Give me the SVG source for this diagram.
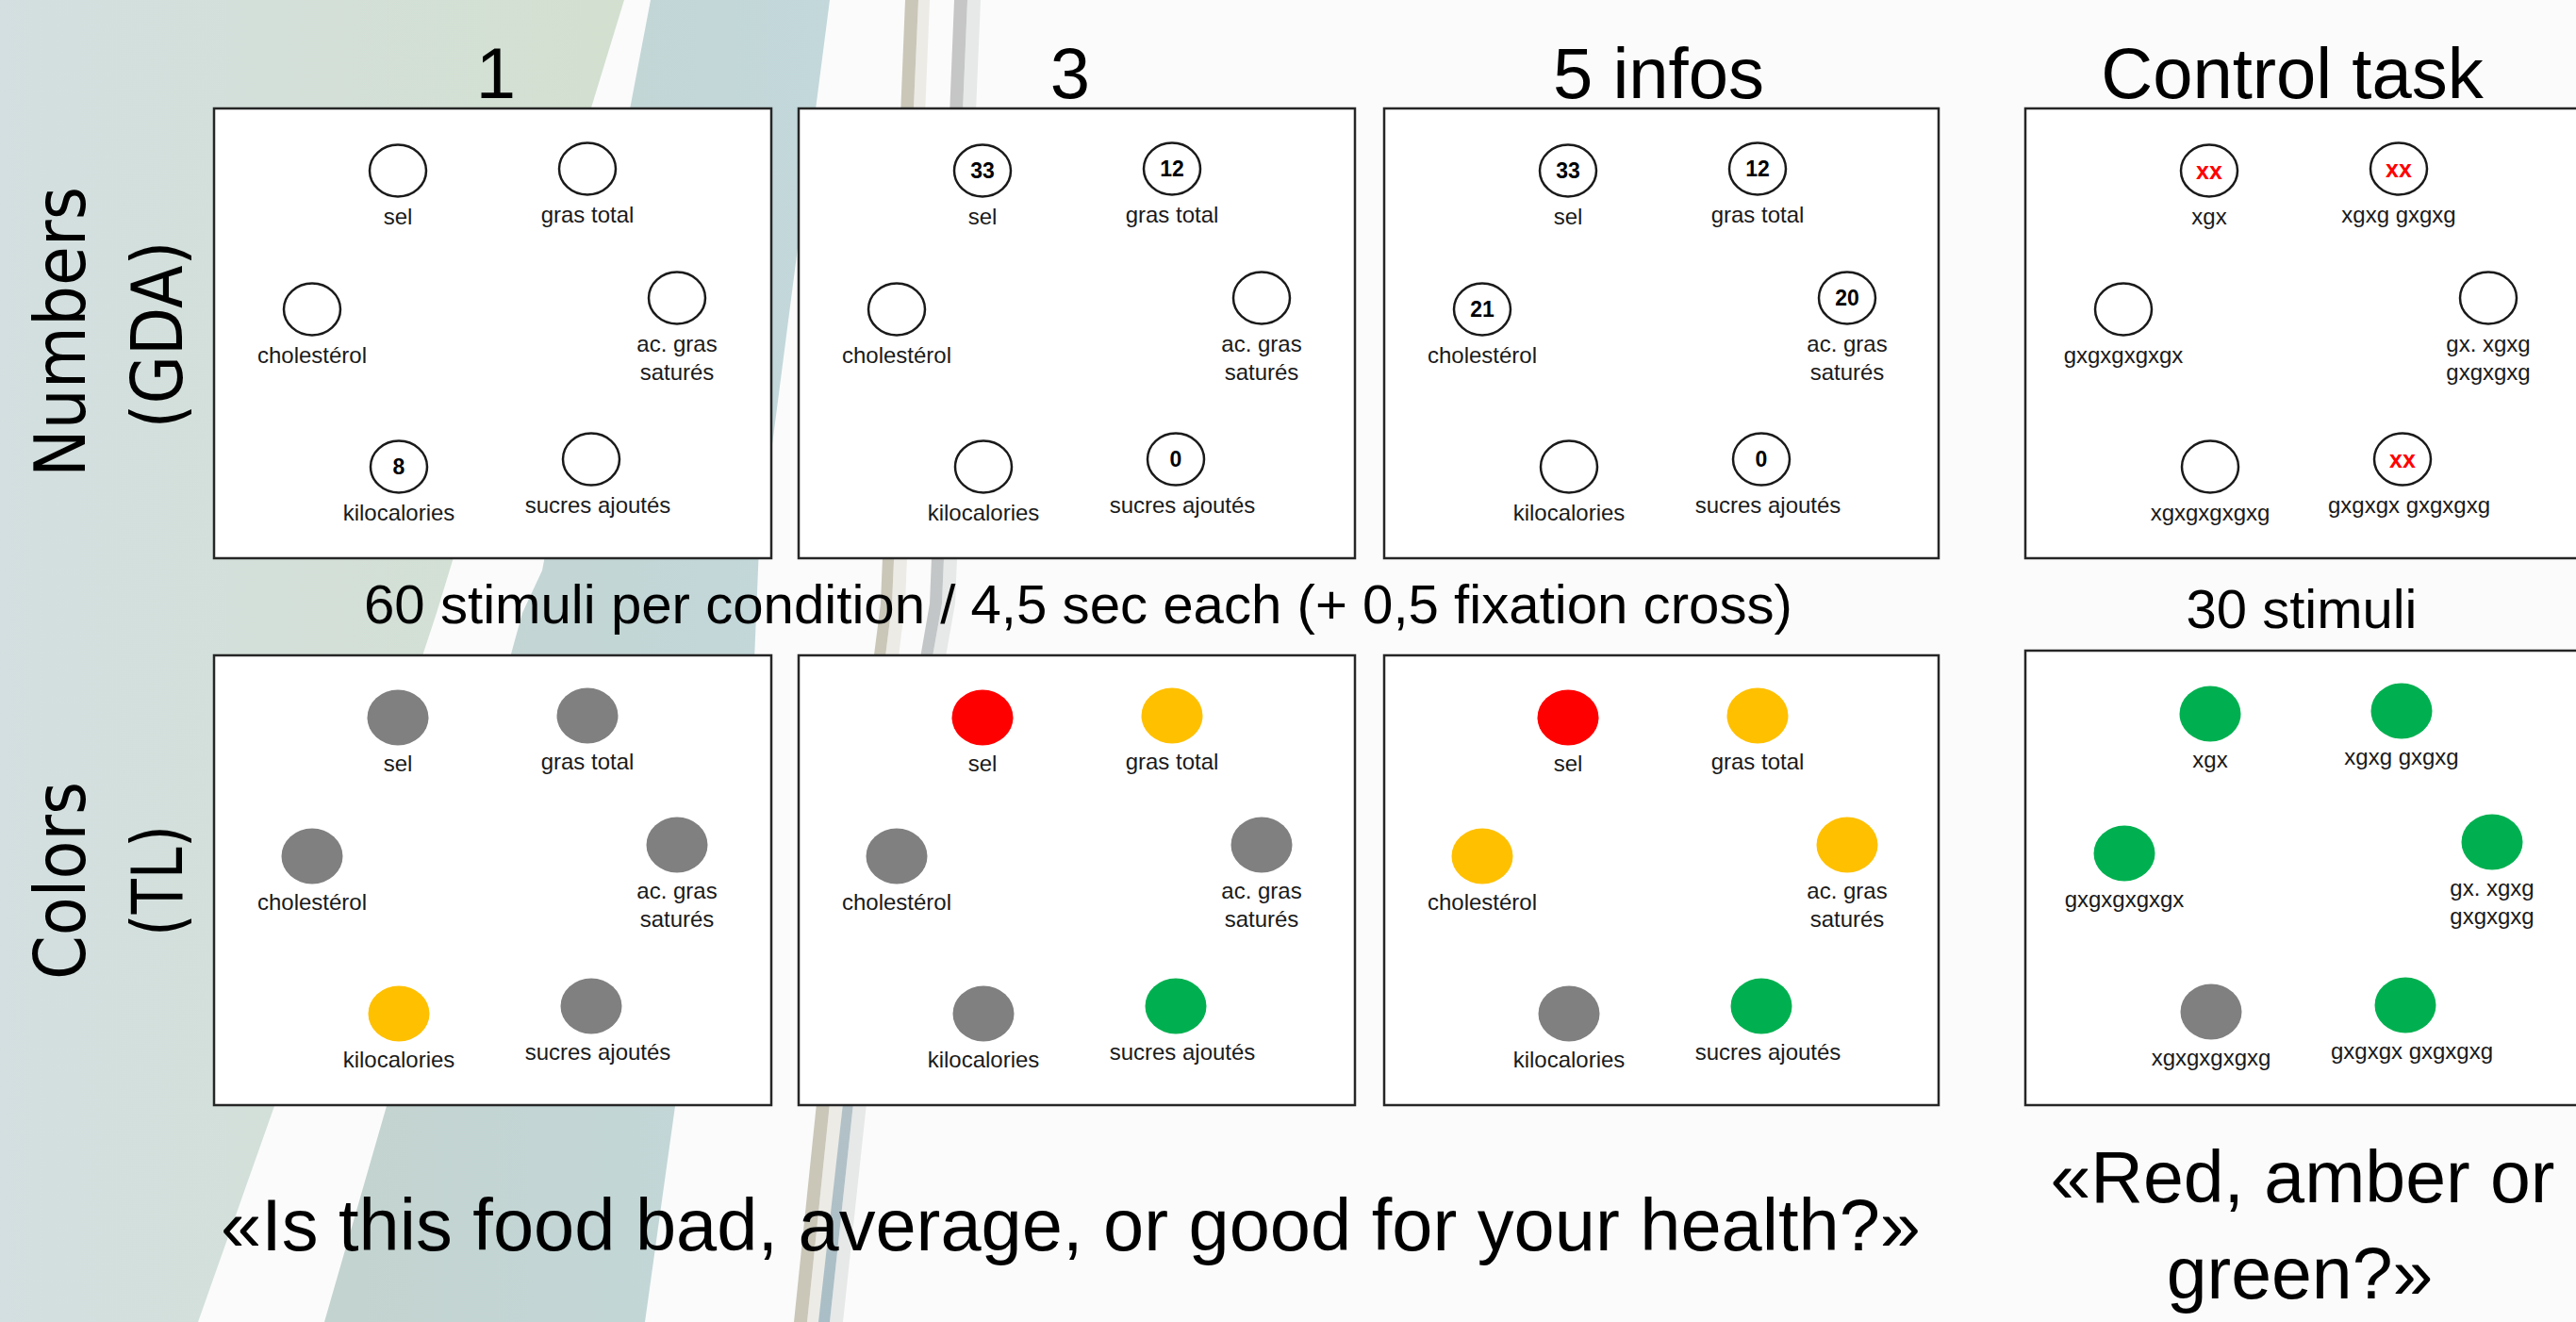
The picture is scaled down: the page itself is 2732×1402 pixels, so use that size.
<svg xmlns="http://www.w3.org/2000/svg" width="2732" height="1402" viewBox="0 0 2732 1402">
<style>
.box{fill:#ffffff;stroke:#262626;stroke-width:2.5}
.ring{fill:#ffffff;stroke:#1a1a1a;stroke-width:2.5}
.t{font-family:'Liberation Sans',Arial,sans-serif;fill:#000000}
.lbl{font-family:'Liberation Sans',Arial,sans-serif;font-size:24px;fill:#1a1a1a;text-anchor:middle}
.num{font-family:'Liberation Sans',Arial,sans-serif;font-size:23px;font-weight:bold;fill:#000000;text-anchor:middle}
.xx{font-family:'Liberation Sans',Arial,sans-serif;font-size:25px;font-weight:bold;fill:#ff0000;text-anchor:middle}
.head{font-size:76px;text-anchor:middle}
.side{font-family:'DejaVu Sans',sans-serif;font-size:74px;fill:#000000;text-anchor:middle}
.grey{fill:#808080}.red{fill:#ff0000}.amber{fill:#ffc000}.green{fill:#00b050}
</style>
<defs>
<linearGradient id="gLeft" gradientUnits="userSpaceOnUse" x1="0" y1="0" x2="660" y2="0">
<stop offset="0" stop-color="#d3dfe0"/><stop offset="1" stop-color="#d3e0d0"/>
</linearGradient>
<linearGradient id="gBlue" gradientUnits="userSpaceOnUse" x1="340" y1="0" x2="880" y2="0">
<stop offset="0" stop-color="#c3d3cf"/><stop offset="1" stop-color="#c3d8db"/>
</linearGradient>
<linearGradient id="gStripe" gradientUnits="userSpaceOnUse" x1="0" y1="0" x2="0" y2="1402">
<stop offset="0" stop-color="#c6c6c6"/><stop offset="0.6" stop-color="#c2c6c8"/><stop offset="1" stop-color="#a9bec6"/>
</linearGradient>
</defs>

<g id="background">
<rect x="0" y="0" width="2732" height="1402" fill="#fbfbfb"/>
<polygon points="0,0 662,0 463,650 291,1173 210,1402 0,1402" fill="url(#gLeft)"/>
<polygon points="690,0 880,0 805,580 800,700 716,1173 684,1402 344,1402 410,1173 554,650 575,605" fill="url(#gBlue)"/>
<polygon points="974,0 986,0 960,640 894,1170 870,1402 856,1402 880,1170 946,640" fill="#ecebe6"/>
<polygon points="960,0 974,0 946,640 880,1170 856,1402 842,1402 866,1170 934,640" fill="#cac7b9"/>
<polygon points="1026,0 1040,0 1013,640 919,1170 894,1402 880,1402 905,1170 999,640" fill="#e7e8e8"/>
<polygon points="1012,0 1026,0 999,640 905,1170 880,1402 868,1402 894,1170 986,640" fill="url(#gStripe)"/>
</g>

<g id="titles">
<text class="t head" x="526" y="104">1</text>
<text class="t head" x="1135" y="104">3</text>
<text class="t head" x="1759" y="104">5 infos</text>
<text class="t head" x="2431" y="104">Control task</text>
<text class="t" x="386" y="661" font-size="58" textLength="1515" lengthAdjust="spacingAndGlyphs">60 stimuli per condition / 4,5 sec each (+ 0,5 fixation cross)</text>
<text class="t" x="2441" y="666" font-size="58" text-anchor="middle">30 stimuli</text>
<text class="t" x="234" y="1326" font-size="77" textLength="1803" lengthAdjust="spacingAndGlyphs">«Is this food bad, average, or good for your health?»</text>
<text class="t" x="2442" y="1275" font-size="77" text-anchor="middle">«Red, amber or</text>
<text class="t" x="2439" y="1377" font-size="77" text-anchor="middle">green?»</text>
<text class="side" transform="translate(90,352) rotate(-90)" textLength="308" lengthAdjust="spacingAndGlyphs">Numbers</text>
<text class="side" transform="translate(193,355) rotate(-90)" textLength="199" lengthAdjust="spacingAndGlyphs">(GDA)</text>
<text class="side" transform="translate(90,934) rotate(-90)" textLength="210" lengthAdjust="spacingAndGlyphs">Colors</text>
<text class="side" transform="translate(193,934) rotate(-90)" textLength="118" lengthAdjust="spacingAndGlyphs">(TL)</text>
</g>

<g id="gda-1" transform="translate(227,115)">
<rect class="box" x="0" y="0" width="591" height="477"/>
<ellipse class="ring" cx="195" cy="66" rx="30" ry="27.5"/>
<ellipse class="ring" cx="396" cy="64" rx="30" ry="27.5"/>
<ellipse class="ring" cx="104" cy="213" rx="30" ry="27.5"/>
<ellipse class="ring" cx="491" cy="201" rx="30" ry="27.5"/>
<ellipse class="ring" cx="196" cy="380" rx="30" ry="27.5"/>
<ellipse class="ring" cx="400" cy="372" rx="30" ry="27.5"/>
<text class="num" x="196" y="388">8</text>
<text class="lbl" x="195" y="123">sel</text>
<text class="lbl" x="396" y="121">gras total</text>
<text class="lbl" x="104" y="270">cholestérol</text>
<text class="lbl" x="491" y="258">ac. gras</text>
<text class="lbl" x="491" y="288">saturés</text>
<text class="lbl" x="196" y="437">kilocalories</text>
<text class="lbl" x="407" y="429">sucres ajoutés</text>
</g>

<g id="gda-3" transform="translate(847,115)">
<rect class="box" x="0" y="0" width="590" height="477"/>
<ellipse class="ring" cx="195" cy="66" rx="30" ry="27.5"/>
<ellipse class="ring" cx="396" cy="64" rx="30" ry="27.5"/>
<ellipse class="ring" cx="104" cy="213" rx="30" ry="27.5"/>
<ellipse class="ring" cx="491" cy="201" rx="30" ry="27.5"/>
<ellipse class="ring" cx="196" cy="380" rx="30" ry="27.5"/>
<ellipse class="ring" cx="400" cy="372" rx="30" ry="27.5"/>
<text class="num" x="195" y="74">33</text>
<text class="num" x="396" y="72">12</text>
<text class="num" x="400" y="380">0</text>
<text class="lbl" x="195" y="123">sel</text>
<text class="lbl" x="396" y="121">gras total</text>
<text class="lbl" x="104" y="270">cholestérol</text>
<text class="lbl" x="491" y="258">ac. gras</text>
<text class="lbl" x="491" y="288">saturés</text>
<text class="lbl" x="196" y="437">kilocalories</text>
<text class="lbl" x="407" y="429">sucres ajoutés</text>
</g>

<g id="gda-5" transform="translate(1468,115)">
<rect class="box" x="0" y="0" width="588" height="477"/>
<ellipse class="ring" cx="195" cy="66" rx="30" ry="27.5"/>
<ellipse class="ring" cx="396" cy="64" rx="30" ry="27.5"/>
<ellipse class="ring" cx="104" cy="213" rx="30" ry="27.5"/>
<ellipse class="ring" cx="491" cy="201" rx="30" ry="27.5"/>
<ellipse class="ring" cx="196" cy="380" rx="30" ry="27.5"/>
<ellipse class="ring" cx="400" cy="372" rx="30" ry="27.5"/>
<text class="num" x="195" y="74">33</text>
<text class="num" x="396" y="72">12</text>
<text class="num" x="104" y="221">21</text>
<text class="num" x="491" y="209">20</text>
<text class="num" x="400" y="380">0</text>
<text class="lbl" x="195" y="123">sel</text>
<text class="lbl" x="396" y="121">gras total</text>
<text class="lbl" x="104" y="270">cholestérol</text>
<text class="lbl" x="491" y="258">ac. gras</text>
<text class="lbl" x="491" y="288">saturés</text>
<text class="lbl" x="196" y="437">kilocalories</text>
<text class="lbl" x="407" y="429">sucres ajoutés</text>
</g>

<g id="gda-control" transform="translate(2148,115)">
<rect class="box" x="0" y="0" width="610" height="477"/>
<ellipse class="ring" cx="195" cy="66" rx="30" ry="27.5"/>
<ellipse class="ring" cx="396" cy="64" rx="30" ry="27.5"/>
<ellipse class="ring" cx="104" cy="213" rx="30" ry="27.5"/>
<ellipse class="ring" cx="491" cy="201" rx="30" ry="27.5"/>
<ellipse class="ring" cx="196" cy="380" rx="30" ry="27.5"/>
<ellipse class="ring" cx="400" cy="372" rx="30" ry="27.5"/>
<text class="xx" x="195" y="75">xx</text>
<text class="xx" x="396" y="73">xx</text>
<text class="xx" x="400" y="381">xx</text>
<text class="lbl" x="195" y="123">xgx</text>
<text class="lbl" x="396" y="121">xgxg gxgxg</text>
<text class="lbl" x="104" y="270">gxgxgxgxgx</text>
<text class="lbl" x="491" y="258">gx. xgxg</text>
<text class="lbl" x="491" y="288">gxgxgxg</text>
<text class="lbl" x="196" y="437">xgxgxgxgxg</text>
<text class="lbl" x="407" y="429">gxgxgx gxgxgxg</text>
</g>

<g id="tl-1" transform="translate(227,695)">
<rect class="box" x="0" y="0" width="591" height="477"/>
<ellipse class="grey" cx="195" cy="66" rx="32.5" ry="29.5"/>
<ellipse class="grey" cx="396" cy="64" rx="32.5" ry="29.5"/>
<ellipse class="grey" cx="104" cy="213" rx="32.5" ry="29.5"/>
<ellipse class="grey" cx="491" cy="201" rx="32.5" ry="29.5"/>
<ellipse class="amber" cx="196" cy="380" rx="32.5" ry="29.5"/>
<ellipse class="grey" cx="400" cy="372" rx="32.5" ry="29.5"/>
<text class="lbl" x="195" y="123">sel</text>
<text class="lbl" x="396" y="121">gras total</text>
<text class="lbl" x="104" y="270">cholestérol</text>
<text class="lbl" x="491" y="258">ac. gras</text>
<text class="lbl" x="491" y="288">saturés</text>
<text class="lbl" x="196" y="437">kilocalories</text>
<text class="lbl" x="407" y="429">sucres ajoutés</text>
</g>

<g id="tl-3" transform="translate(847,695)">
<rect class="box" x="0" y="0" width="590" height="477"/>
<ellipse class="red" cx="195" cy="66" rx="32.5" ry="29.5"/>
<ellipse class="amber" cx="396" cy="64" rx="32.5" ry="29.5"/>
<ellipse class="grey" cx="104" cy="213" rx="32.5" ry="29.5"/>
<ellipse class="grey" cx="491" cy="201" rx="32.5" ry="29.5"/>
<ellipse class="grey" cx="196" cy="380" rx="32.5" ry="29.5"/>
<ellipse class="green" cx="400" cy="372" rx="32.5" ry="29.5"/>
<text class="lbl" x="195" y="123">sel</text>
<text class="lbl" x="396" y="121">gras total</text>
<text class="lbl" x="104" y="270">cholestérol</text>
<text class="lbl" x="491" y="258">ac. gras</text>
<text class="lbl" x="491" y="288">saturés</text>
<text class="lbl" x="196" y="437">kilocalories</text>
<text class="lbl" x="407" y="429">sucres ajoutés</text>
</g>

<g id="tl-5" transform="translate(1468,695)">
<rect class="box" x="0" y="0" width="588" height="477"/>
<ellipse class="red" cx="195" cy="66" rx="32.5" ry="29.5"/>
<ellipse class="amber" cx="396" cy="64" rx="32.5" ry="29.5"/>
<ellipse class="amber" cx="104" cy="213" rx="32.5" ry="29.5"/>
<ellipse class="amber" cx="491" cy="201" rx="32.5" ry="29.5"/>
<ellipse class="grey" cx="196" cy="380" rx="32.5" ry="29.5"/>
<ellipse class="green" cx="400" cy="372" rx="32.5" ry="29.5"/>
<text class="lbl" x="195" y="123">sel</text>
<text class="lbl" x="396" y="121">gras total</text>
<text class="lbl" x="104" y="270">cholestérol</text>
<text class="lbl" x="491" y="258">ac. gras</text>
<text class="lbl" x="491" y="288">saturés</text>
<text class="lbl" x="196" y="437">kilocalories</text>
<text class="lbl" x="407" y="429">sucres ajoutés</text>
</g>

<g id="tl-control" transform="translate(2148,690)">
<rect class="box" x="0" y="0" width="610" height="482"/>
<ellipse class="green" cx="196" cy="67" rx="32.5" ry="29.5"/>
<ellipse class="green" cx="399" cy="64" rx="32.5" ry="29.5"/>
<ellipse class="green" cx="105" cy="215" rx="32.5" ry="29.5"/>
<ellipse class="green" cx="495" cy="203" rx="32.5" ry="29.5"/>
<ellipse class="grey" cx="197" cy="383" rx="32.5" ry="29.5"/>
<ellipse class="green" cx="403" cy="376" rx="32.5" ry="29.5"/>
<text class="lbl" x="196" y="124">xgx</text>
<text class="lbl" x="399" y="121">xgxg gxgxg</text>
<text class="lbl" x="105" y="272">gxgxgxgxgx</text>
<text class="lbl" x="495" y="260">gx. xgxg</text>
<text class="lbl" x="495" y="290">gxgxgxg</text>
<text class="lbl" x="197" y="440">xgxgxgxgxg</text>
<text class="lbl" x="410" y="433">gxgxgx gxgxgxg</text>
</g>

<g id="connectors"/>
</svg>
